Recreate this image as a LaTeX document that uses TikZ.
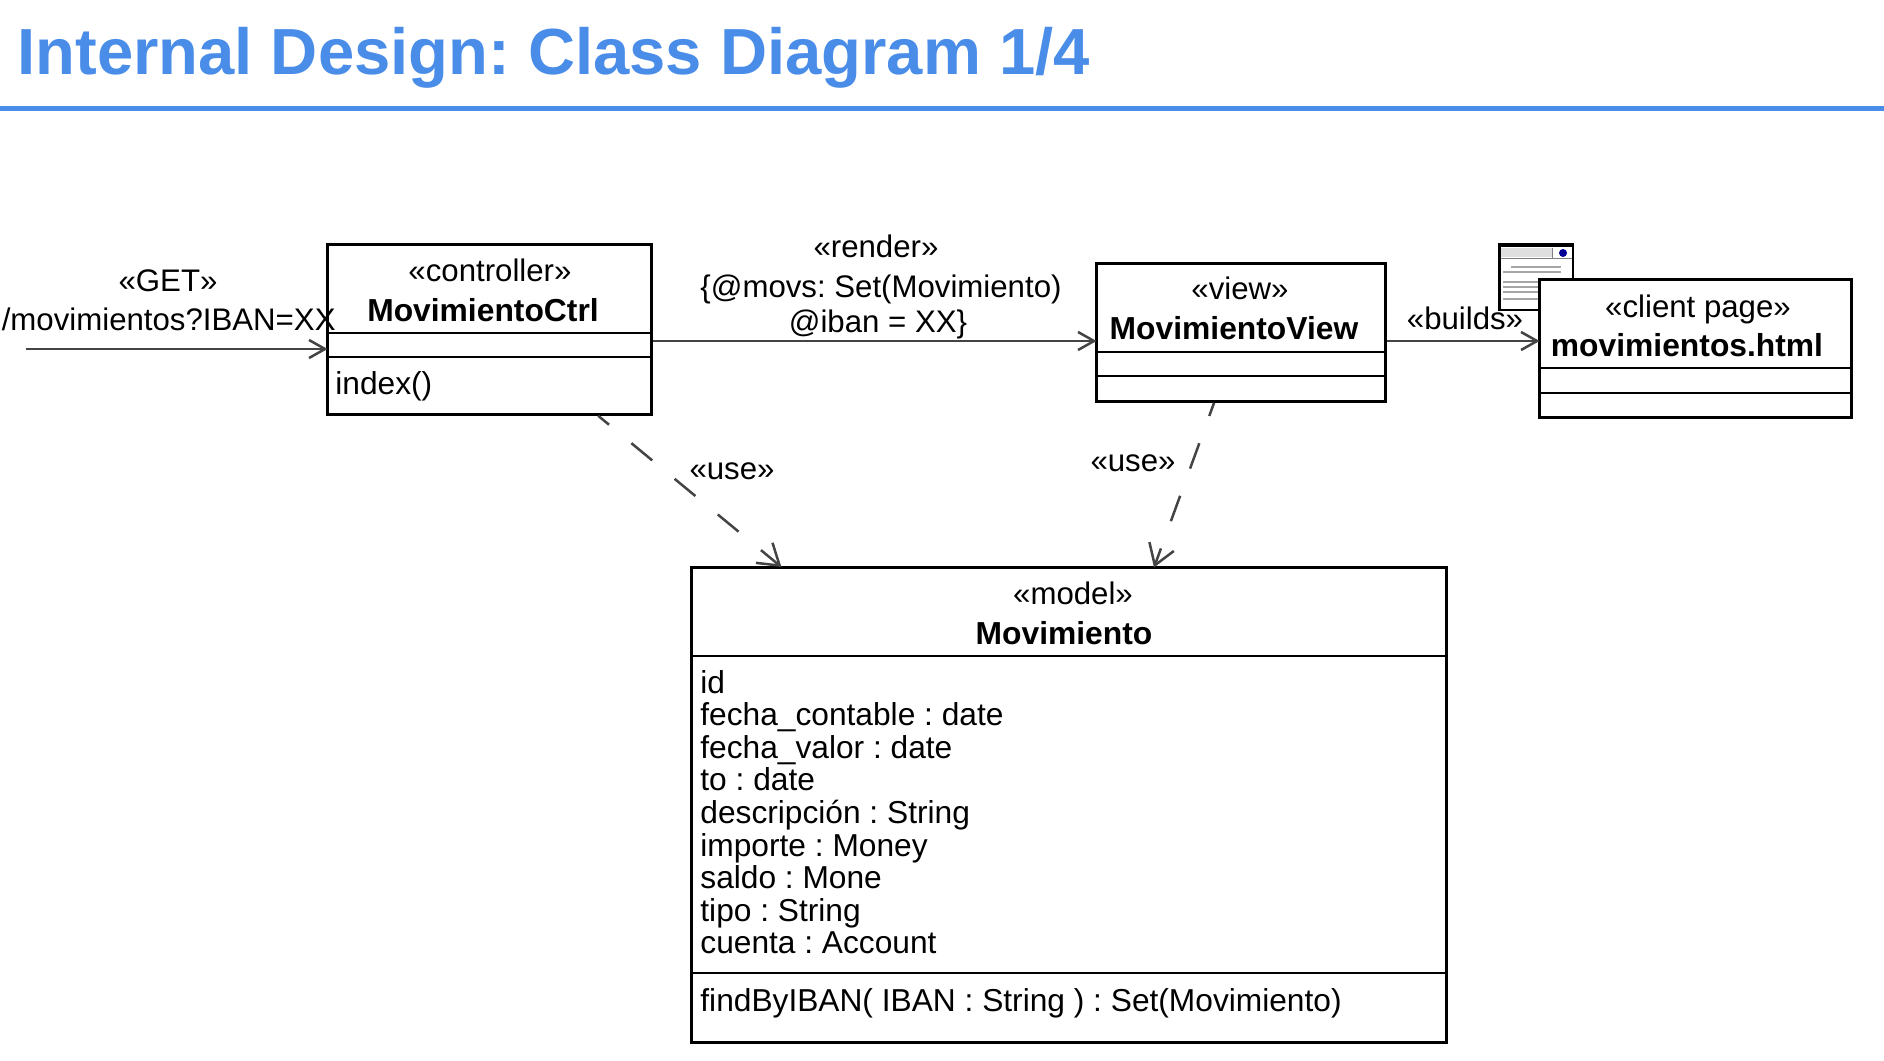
\documentclass[tikz,border=0pt]{standalone}
\usepackage{fontspec}
\setmainfont{Liberation Sans}
\usetikzlibrary{calc,arrows.meta}
\definecolor{titleblue}{HTML}{4A8DE8}
\definecolor{conn}{HTML}{444444}
\frenchspacing
\tikzset{
  umlbox/.style={draw=black,line width=1.4pt,fill=white,inner sep=0pt,anchor=north west},
  div/.style={draw=black,line width=1.4pt},
  lbl/.style={inner sep=0pt,anchor=base,font=\fontsize{15.6pt}{18pt}\selectfont},
  lblw/.style={lbl,anchor=base west,font=\fontsize{15.85pt}{18pt}\selectfont},
  lble/.style={lbl,anchor=base east},
  bold/.style={lbl,font=\fontsize{15.9pt}{18pt}\selectfont\bfseries},
  conline/.style={draw=conn,line width=1.25pt,shorten >=-0.8pt,-{Straight Barb[length=8pt,width=9pt,line width=1.25pt]}},
  usedash/.style={draw=conn,line width=1.25pt,shorten >=-0.8pt,dash pattern=on 13.5pt off 14.5pt,dash phase=6.5pt,-{Straight Barb[length=10pt,width=13pt,line width=1.25pt]}},
}
\begin{document}
\begin{tikzpicture}[x=0.5pt,y=-0.5pt]
\useasboundingbox (0,0) rectangle (1884,1060);
% title
\node[inner sep=0pt,anchor=base west,text=titleblue,font=\fontsize{32.6pt}{36pt}\selectfont\bfseries] (title) at (17,74) {Internal Design: Class Diagram 1/4};
\fill[titleblue] (0,106) rectangle (1884,110.5);
% page icon
\draw[black,line width=1.4pt,fill=white] (1499.5,244) rectangle (1573,310);
\fill[black] (1499,243) rectangle (1573.5,247);
\fill[gray!25] (1501,248) rectangle (1552,257);
\draw[gray,line width=.5pt] (1501,258) -- (1572,258) (1552,248) -- (1552,258);
\fill[blue!60!black] (1563,253) circle (4);
\foreach \yy/\xa/\xb in {267/1511/1561,272/1503/1561,282/1503/1539,287/1503/1539,292/1503/1539,299/1503/1539}
  \draw[gray!70,line width=.7pt] (\xa,\yy) -- (\xb,\yy);
% boxes
\node[umlbox,minimum width=162pt,minimum height=85pt] (ctrl) at (326,243) {};
\node[umlbox,minimum width=144.5pt,minimum height=69pt] (view) at (1095,262) {};
\node[umlbox,minimum width=156pt,minimum height=69pt] (page) at (1538,278) {};
\node[umlbox,minimum width=377.5pt,minimum height=237.5pt] (model) at (690,566) {};
% compartments
\draw[div] (ctrl.west |- 0,333) -- (ctrl.east |- 0,333);
\draw[div] (ctrl.west |- 0,357) -- (ctrl.east |- 0,357);
\draw[div] (view.west |- 0,352) -- (view.east |- 0,352);
\draw[div] (view.west |- 0,376) -- (view.east |- 0,376);
\draw[div] (page.west |- 0,368) -- (page.east |- 0,368);
\draw[div] (page.west |- 0,393) -- (page.east |- 0,393);
\draw[div] (model.west |- 0,656) -- (model.east |- 0,656);
\draw[div] (model.west |- 0,973) -- (model.east |- 0,973);
% connectors
\coordinate (getstart) at (26,349);
\coordinate (rendery) at (0,341);
\draw[conline] (getstart) -- (getstart -| ctrl.west);
\draw[conline] (ctrl.east |- rendery) -- (view.west |- rendery);
\draw[conline] (view.east |- rendery) -- (page.west |- rendery);
\draw[usedash] ($(ctrl.south west)!.833!(ctrl.south east)$) -- ($(model.north west)!.119!(model.north east)$);
\draw[usedash] ($(view.south west)!.408!(view.south east)$) -- ($(model.north west)!.613!(model.north east)$);
% labels
\node[lbl] (t1) at (168,291) {«GET»};
\node[lble] (t2) at (336,330) {/movimientos?IBAN=XX};
\node[lbl] (t3) at (490,281) {«controller»};
\node[bold] (t4) at (483,321) {MovimientoCtrl};
\node[lblw] (t5) at (335,394) {index()};
\node[lbl] (t6) at (876,257) {«render»};
\node[lbl] (t7) at (881,297) {\{@movs: Set(Movimiento)};
\node[lbl] (t8) at (878,332) {@iban = XX\}};
\node[lbl] (t9) at (1240,299) {«view»};
\node[bold] (t10) at (1234,339) {MovimientoView};
\node[lbl] (t11) at (1465,329) {«builds»};
\node[lbl] (t12) at (1698,317) {«client page»};
\node[bold] (t13) at (1687,356) {movimientos.html};
\node[lbl] (t14) at (732,479) {«use»};
\node[lbl] (t15) at (1133,471) {«use»};
\node[lbl] (t16) at (1073,604) {«model»};
\node[bold] (t17) at (1064,644) {Movimiento};
\node[lblw] (a1) at (700,693) {id};
\node[lblw] (a2) at (700,725.5) {fecha\_contable : date};
\node[lblw] (a3) at (700,758) {fecha\_valor : date};
\node[lblw] (a4) at (700,790) {to : date};
\node[lblw] (a5) at (700,823) {descripción : String};
\node[lblw] (a6) at (700,856) {importe : Money};
\node[lblw] (a7) at (700,888) {saldo : Mone};
\node[lblw] (a8) at (700,921) {tipo : String};
\node[lblw] (a9) at (700,953) {cuenta : Account};
\node[lblw] (m1) at (700,1011) {findByIBAN( IBAN : String ) : Set(Movimiento)};
\end{tikzpicture}
\end{document}
